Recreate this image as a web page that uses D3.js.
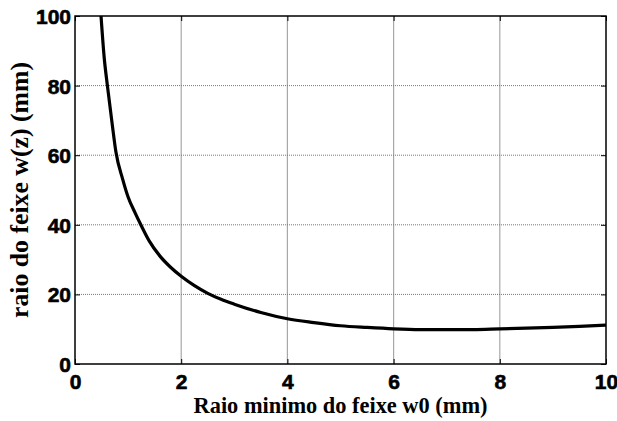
<!DOCTYPE html>
<html>
<head>
<meta charset="utf-8">
<script src="https://cdn.jsdelivr.net/npm/d3@7"></script>
<style>
  html, body { margin: 0; padding: 0; background: #fff; }
  svg { display: block; }
</style>
</head>
<body>
<svg id="chart" width="617" height="421"></svg>
<script>
// Minimum beam radius w0 (mm) and resulting beam radius w(z) (mm)
const w0Values = [0.49, 0.55, 0.61, 0.7, 0.77, 0.9, 1.0, 1.13, 1.24, 1.4, 1.6, 1.8, 2.0,
                  2.25, 2.5, 2.75, 3.0, 3.5, 4.0, 4.5, 5.0, 5.5, 6.0, 6.5, 7.0, 7.5,
                  8.0, 8.5, 9.0, 9.5, 10.0];
const wzValues = [100, 88, 80, 69, 61, 53, 48, 43.5, 40, 35.3, 31, 27.8, 25.2,
                  22.5, 20.3, 18.6, 17.2, 14.8, 13.0, 11.9, 11.0, 10.5, 10.1, 9.9, 9.9, 9.9,
                  10.1, 10.3, 10.5, 10.8, 11.2];
const xTicks = [0, 2, 4, 6, 8, 10];
const yTicks = [0, 20, 40, 60, 80, 100];
const xLabel = "Raio minimo do feixe w0 (mm)";
const yLabel = "raio do feixe w(z) (mm)";

const plotL = 75, plotR = 606, plotT = 16, plotB = 364;
const svg = d3.select("#chart");

const x = d3.scaleLinear().domain([0, 10]).range([plotL, plotR]);
const y = d3.scaleLinear().domain([0, 100]).range([plotB, plotT]);

// grid
const grid = svg.append("g");
grid.selectAll("line.vg").data(xTicks.slice(1, -1)).join("line")
  .attr("x1", d => x(d)).attr("x2", d => x(d))
  .attr("y1", plotT).attr("y2", plotB)
  .attr("stroke", "#a8a8a8").attr("stroke-width", 1.2);
grid.selectAll("line.hg").data(yTicks.slice(1, -1)).join("line")
  .attr("x1", plotL).attr("x2", plotR)
  .attr("y1", d => y(d)).attr("y2", d => y(d))
  .attr("stroke", "#777").attr("stroke-width", 1).attr("stroke-dasharray", "1,1");

// curve
const clipId = "plotclip";
svg.append("clipPath").attr("id", clipId).append("rect")
  .attr("x", plotL).attr("y", plotT).attr("width", plotR - plotL).attr("height", plotB - plotT);
const pts = w0Values.map((v, i) => [v, wzValues[i]]);
svg.append("path")
  .datum(pts)
  .attr("clip-path", `url(#${clipId})`)
  .attr("fill", "none")
  .attr("stroke", "#000")
  .attr("stroke-width", 3.2)
  .attr("stroke-linejoin", "round")
  .attr("d", d3.line().x(d => x(d[0])).y(d => y(d[1])).curve(d3.curveMonotoneX));

// axes with inward ticks
const tickFont = "bold 21px 'Liberation Sans', Arial, sans-serif";
const xAxis = d3.axisBottom(x).tickValues(xTicks).tickSize(-5).tickPadding(10).tickFormat(d3.format("d"));
const yAxis = d3.axisLeft(y).tickValues(yTicks).tickSize(-5).tickPadding(4).tickFormat(d3.format("d"));

const gx = svg.append("g").attr("transform", `translate(0,${plotB})`).call(xAxis);
const gy = svg.append("g").attr("transform", `translate(${plotL},0)`).call(yAxis);
const gxt = svg.append("g").attr("transform", `translate(0,${plotT})`)
  .call(d3.axisTop(x).tickValues(xTicks).tickSize(-5).tickFormat(""));
const gyr = svg.append("g").attr("transform", `translate(${plotR},0)`)
  .call(d3.axisRight(y).tickValues(yTicks).tickSize(-5).tickFormat(""));

[gx, gy, gxt, gyr].forEach(g => {
  g.select(".domain").remove();
  g.selectAll(".tick line").attr("stroke", "#000").attr("stroke-width", 1);
});
[gx, gy].forEach(g => g.selectAll("text")
  .style("font", tickFont).attr("fill", "#000")
  .attr("stroke", "#000").attr("stroke-width", 0.6));
gx.selectAll("text").attr("dy", "0.71em");
gy.selectAll("text").attr("dy", "0.36em");

// box
svg.append("rect")
  .attr("x", plotL).attr("y", plotT).attr("width", plotR - plotL).attr("height", plotB - plotT)
  .attr("fill", "none").attr("stroke", "#000").attr("stroke-width", 1.5);

// axis titles, sized to their intended lengths
function fitText(sel, target) {
  let size = 20;
  sel.style("font-size", size + "px");
  const len = sel.node().getComputedTextLength();
  size = size * target / len;
  sel.style("font-size", size.toFixed(2) + "px");
}
const titleFamily = "'Liberation Serif', 'Times New Roman', serif";
const xt = svg.append("text")
  .attr("x", (plotL + plotR) / 2).attr("y", 413)
  .attr("text-anchor", "middle")
  .style("font-family", titleFamily).style("font-weight", "bold").attr("fill", "#000")
  .text(xLabel);
fitText(xt, 294);
const yt = svg.append("text")
  .attr("transform", `translate(28,190) rotate(-90)`)
  .attr("text-anchor", "middle")
  .style("font-family", titleFamily).style("font-weight", "bold").attr("fill", "#000")
  .text(yLabel);
fitText(yt, 256);
</script>
</body>
</html>
